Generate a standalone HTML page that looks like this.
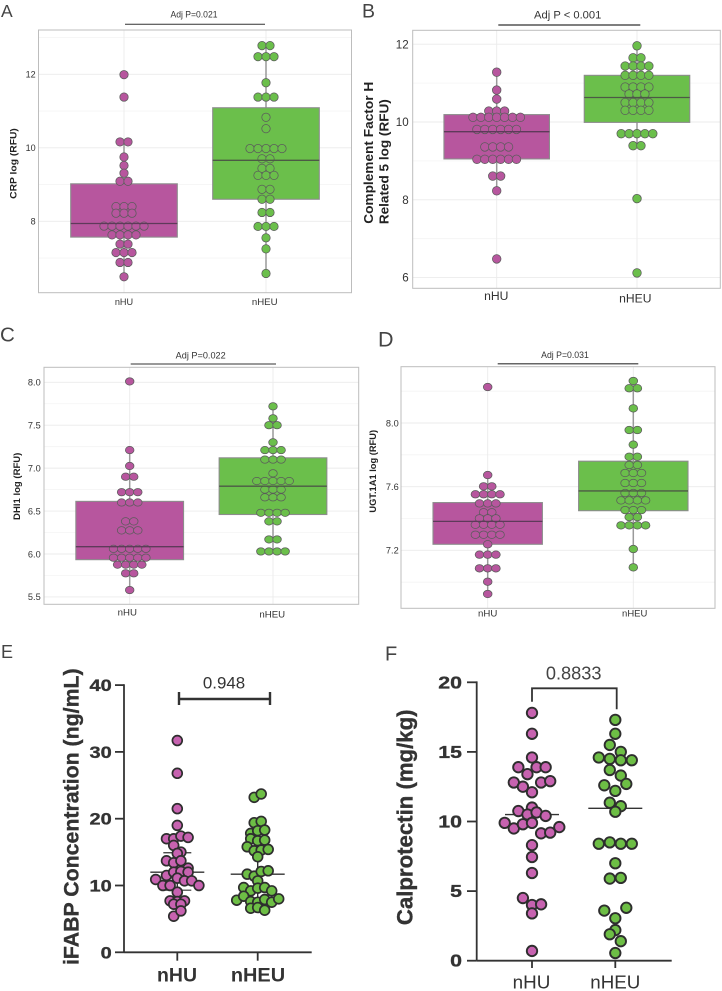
<!DOCTYPE html>
<html lang="en">
<head>
<meta charset="utf-8">
<title>nHU vs nHEU biomarker comparison panels</title>
<style>
html,body{margin:0;padding:0;background:#fff;}
svg{display:block;font-family:"Liberation Sans",sans-serif;}
</style>
</head>
<body>
<svg id="figure" xmlns="http://www.w3.org/2000/svg" width="722" height="991" viewBox="0 0 722 991">
  <rect x="0" y="0" width="722" height="991" fill="#ffffff"/>

  <g id="panel-a"></g>
  <g id="panel-b"></g>
  <g id="panel-c"></g>
  <g id="panel-d"></g>
  <g id="panel-e"></g>
  <g id="panel-f"></g>

  <g fill="#444444">
    <text x="1" y="17" font-size="17.5">A</text>
    <text x="362" y="17.5" font-size="19.5">B</text>
    <text x="0" y="341.5" font-size="20.5">C</text>
    <text x="378" y="346.5" font-size="21.5">D</text>
    <text x="1" y="658" font-size="18">E</text>
    <text x="385" y="660.5" font-size="20">F</text>
  </g>

  <g>
    <text x="194" y="17.5" font-size="8.8" text-anchor="middle" fill="#333" textLength="47" lengthAdjust="spacingAndGlyphs">Adj P=0.021</text>
    <line x1="125" x2="265" y1="24.3" y2="24.3" stroke="#333" stroke-width="1"/>
  </g>
  <g>
    <text x="567.7" y="18.7" font-size="11" text-anchor="middle" fill="#333" textLength="67.3" lengthAdjust="spacingAndGlyphs">Adj P &lt; 0.001</text>
    <line x1="498.3" x2="640.3" y1="25" y2="25" stroke="#333" stroke-width="1.2"/>
  </g>
  <g>
    <text x="200.7" y="358.3" font-size="8.8" text-anchor="middle" fill="#333" textLength="50" lengthAdjust="spacingAndGlyphs">Adj P=0.022</text>
    <line x1="130.7" x2="276" y1="364" y2="364" stroke="#333" stroke-width="1"/>
  </g>
  <g>
    <text x="565" y="358" font-size="8.8" text-anchor="middle" fill="#333" textLength="47.7" lengthAdjust="spacingAndGlyphs">Adj P=0.031</text>
    <line x1="497.7" x2="638.3" y1="363.7" y2="363.7" stroke="#666" stroke-width="1.5"/>
  </g>
  <g>
    <text x="224" y="688.3" font-size="17" text-anchor="middle" fill="#333" textLength="42.3" lengthAdjust="spacingAndGlyphs">0.948</text>
    <path d="M179 692V705M179 699H270M270 692V705" fill="none" stroke="#333" stroke-width="2.4"/>
  </g>
  <g>
    <text x="573.7" y="679.3" font-size="18" text-anchor="middle" fill="#444" textLength="55.7" lengthAdjust="spacingAndGlyphs">0.8833</text>
    <path d="M532 701.7V688.3H616.7V709.3" fill="none" stroke="#333" stroke-width="1.8"/>
  </g>

  <g fill="#222" font-weight="bold">
    <text transform="translate(16.7 163.5) rotate(-90)" font-size="9.3" text-anchor="middle" textLength="70.7" lengthAdjust="spacingAndGlyphs">CRP log (RFU)</text>
    <text transform="translate(373 152.8) rotate(-90)" font-size="12.5" text-anchor="middle" textLength="142" lengthAdjust="spacingAndGlyphs">Complement Factor H</text>
    <text transform="translate(388.7 161.7) rotate(-90)" font-size="12.5" text-anchor="middle" textLength="125" lengthAdjust="spacingAndGlyphs">Related 5 log (RFU)</text>
    <text transform="translate(20 486.3) rotate(-90)" font-size="9.3" text-anchor="middle" textLength="67.3" lengthAdjust="spacingAndGlyphs">DHI1 log (RFU)</text>
    <text transform="translate(376 471.3) rotate(-90)" font-size="9.3" text-anchor="middle" textLength="82.7" lengthAdjust="spacingAndGlyphs">UGT.1A1 log (RFU)</text>
    <text fill="#333" stroke="#333" stroke-width="0.35" transform="translate(78.3 816.7) rotate(-90)" font-size="21" text-anchor="middle" textLength="296.7" lengthAdjust="spacingAndGlyphs">iFABP Concentration (ng/mL)</text>
    <text fill="#333" stroke="#333" stroke-width="0.35" transform="translate(412.7 817.3) rotate(-90)" font-size="22" text-anchor="middle" textLength="215.7" lengthAdjust="spacingAndGlyphs">Calprotectin (mg/kg)</text>
  </g>
</svg>

<script>
/* ---------- shared categories ---------- */
const categories = ['nHU', 'nHEU'];

/* ---------- Panel A: CRP ---------- */
const aTicks = [8, 10, 12];
const aTickLabels = ['8', '10', '12'];
const aMinorTicks = [7, 9, 11, 13];
const aHuValues = [11.99, 11.38, 10.16, 10.16, 9.75, 9.52, 9.31, 9.09, 9.09, 8.4, 8.4, 8.4, 8.22, 8.22, 8.22, 7.87, 7.87, 7.87, 7.87, 7.87, 7.87, 7.63, 7.63, 7.63, 7.63, 7.38, 7.38, 7.15, 7.15, 7.15, 6.88, 6.88, 6.49];
const aHeuValues = [12.78, 12.78, 12.48, 12.48, 12.48, 11.77, 11.38, 11.38, 11.38, 10.83, 10.52, 9.98, 9.98, 9.98, 9.98, 9.98, 9.7, 9.7, 9.44, 9.44, 9.25, 9.25, 9.25, 8.87, 8.87, 8.6, 8.6, 8.24, 8.24, 7.86, 7.86, 7.86, 7.55, 7.25, 6.58];
const aHuBox = [6.49, 7.57, 7.94, 9.02, 10.16];   /* low, q1, median, q3, high */
const aHeuBox = [6.58, 8.6, 9.66, 11.09, 12.78];

/* ---------- Panel B: Complement Factor H Related 5 ---------- */
const bTicks = [6, 8, 10, 12];
const bTickLabels = ['6', '8', '10', '12'];
const bMinorTicks = [7, 9, 11];
const bHuValues = [11.28, 10.82, 10.59, 10.28, 10.28, 10.28, 10.12, 10.12, 10.12, 10.12, 10.12, 10.12, 10.12, 9.81, 9.81, 9.81, 9.81, 9.81, 9.81, 9.36, 9.36, 9.36, 9.36, 9.04, 9.04, 9.04, 9.04, 9.04, 9.04, 8.61, 8.61, 8.23, 6.48];
const bHeuValues = [11.96, 11.65, 11.65, 11.44, 11.44, 11.44, 11.44, 11.2, 11.2, 11.2, 11.2, 10.9, 10.9, 10.9, 10.9, 10.72, 10.72, 10.72, 10.5, 10.5, 10.5, 10.5, 10.3, 10.3, 10.3, 10.3, 9.7, 9.7, 9.7, 9.7, 9.7, 9.39, 9.39, 8.03, 6.12];
const bHuBox = [8.23, 9.05, 9.75, 10.19, 11.28];
const bHeuBox = [9.39, 9.99, 10.63, 11.2, 11.96];

/* ---------- Panel C: DHI1 ---------- */
const cTicks = [5.5, 6, 6.5, 7, 7.5, 8];
const cTickLabels = ['5.5', '6.0', '6.5', '7.0', '7.5', '8.0'];
const cMinorTicks = [5.75, 6.25, 6.75, 7.25, 7.75];
const cHuValues = [8.01, 7.21, 7.025, 6.9, 6.9, 6.72, 6.72, 6.72, 6.6, 6.6, 6.6, 6.38, 6.38, 6.275, 6.275, 6.275, 6.06, 6.06, 6.06, 6.06, 6.06, 5.957, 5.957, 5.957, 5.957, 5.957, 5.876, 5.876, 5.876, 5.876, 5.775, 5.775, 5.58];
const cHeuValues = [7.72, 7.58, 7.5, 7.5, 7.3, 7.21, 7.21, 7.21, 7.1, 7.1, 7.1, 6.94, 6.85, 6.85, 6.85, 6.85, 6.85, 6.75, 6.75, 6.75, 6.66, 6.66, 6.66, 6.48, 6.48, 6.48, 6.48, 6.38, 6.38, 6.17, 6.17, 6.03, 6.03, 6.03, 6.03];
const cHuBox = [5.58, 5.934, 6.085, 6.613, 7.21];
const cHeuBox = [6.03, 6.46, 6.79, 7.12, 7.72];

/* ---------- Panel D: UGT.1A1 ---------- */
const dTicks = [7.2, 7.6, 8];
const dTickLabels = ['7.2', '7.6', '8.0'];
const dMinorTicks = [7, 7.4, 7.8, 8.2];
const dHuValues = [8.226, 7.673, 7.602, 7.602, 7.552, 7.552, 7.552, 7.552, 7.495, 7.495, 7.495, 7.439, 7.439, 7.401, 7.401, 7.401, 7.361, 7.361, 7.361, 7.361, 7.298, 7.298, 7.298, 7.298, 7.238, 7.173, 7.173, 7.173, 7.087, 7.087, 7.087, 7.003, 6.926];
const dHeuValues = [8.264, 8.218, 8.218, 8.092, 7.956, 7.956, 7.864, 7.788, 7.788, 7.736, 7.736, 7.686, 7.686, 7.686, 7.623, 7.623, 7.623, 7.56, 7.56, 7.56, 7.514, 7.514, 7.514, 7.514, 7.453, 7.453, 7.453, 7.409, 7.409, 7.357, 7.357, 7.357, 7.357, 7.208, 7.093];
const dHuBox = [6.926, 7.238, 7.382, 7.5, 7.673];
const dHeuBox = [7.093, 7.449, 7.573, 7.76, 8.264];

/* ---------- Panel E: iFABP ---------- */
const eTicks = [0, 10, 20, 30, 40];
const eTickLabels = ['0', '10', '20', '30', '40'];
const eHuValues = [31.7, 26.8, 21.5, 19, 17, 17, 17.4, 17.2, 16, 14.8, 15, 13.7, 13.4, 13.7, 12.6, 11.5, 12, 12.1, 12, 10.9, 10, 10, 11.1, 10.7, 10.7, 10, 9, 7.7, 7.6, 7.7, 7.2, 7.2, 5.4, 6.2];
const eHeuValues = [23.2, 23.7, 19.4, 19.6, 17.8, 18.2, 18.3, 17, 16.7, 16.8, 15.8, 15.2, 15.3, 15.4, 14.3, 11.7, 11.4, 12.1, 12.2, 10.7, 9.7, 9.2, 9.6, 9.7, 9.2, 7.8, 8.4, 7.6, 7.5, 7.9, 7.5, 8, 6.6, 6.7, 6.3];
const eHuSummary = [9.3, 12, 14.9];    /* lower SD, mean, upper SD */
const eHeuSummary = [8, 11.7, 15.4];

/* ---------- Panel F: Calprotectin ---------- */
const fTicks = [0, 5, 10, 15, 20];
const fTickLabels = ['0', '5', '10', '15', '20'];
const fHuValues = [17.8, 16.3, 14.6, 13.9, 13.4, 13.9, 13.9, 12.8, 12.5, 12.1, 12.8, 12.9, 11, 10.75, 10.5, 10.65, 10.4, 9.9, 9.5, 9.8, 9.9, 9.15, 9.2, 9.6, 8.3, 7.45, 6.3, 4.5, 4, 4.05, 3.4, 0.7];
const fHeuValues = [17.3, 16.3, 15.5, 15, 14.6, 14.5, 14.4, 14.4, 13.7, 13.3, 12.6, 12.2, 12.7, 11.35, 11.1, 10.7, 8.4, 8.5, 8.4, 8.4, 7, 5.9, 5.95, 3.6, 3.05, 3.8, 2.2, 1.9, 1.4, 0.55];
const fHuSummary = [10.5];             /* mean only */
const fHeuSummary = [10.95];

/* ---------- drawing helpers ---------- */
const NS = 'http://www.w3.org/2000/svg';

function make(parent, tag, props) {
  const el = document.createElementNS(NS, tag);
  for (const k in props) el.setAttribute(k, props[k]);
  parent.appendChild(el);
  return el;
}

function rule(parent, name, x1, y1, x2, y2, color, width) {
  const el = make(parent, 'line', {x1: x1, y1: y1, x2: x2, y2: y2, stroke: color, 'stroke-width': width});
  
  
  return el;
}

function label(parent, name, str, x, y, size, color, anchor, weight, len) {
  const el = make(parent, 'text', {x: x, y: y, 'font-size': size, fill: color, 'text-anchor': anchor, 'font-weight': weight});
  if (len) {
    el.setAttribute('textLength', len);
    el.setAttribute('lengthAdjust', 'spacingAndGlyphs');
  }
  el.textContent = str;
  
  
  return el;
}

/* Centred dot-plot: equal values share a row */
function drawDotRows(g, name, values, xCenter, yScale, cfg, fill) {
  const rows = new Map();
  values.forEach(function (v) {
    if (!rows.has(v)) rows.set(v, 0);
    rows.set(v, rows.get(v) + 1);
  });
  rows.forEach(function (n, v) {
    for (let i = 0; i < n; i++) {
      const dot = make(g, 'ellipse', {
        cx: xCenter + (i - (n - 1) / 2) * cfg.step,
        cy: yScale(v),
        rx: cfg.rx, ry: cfg.ry,
        fill: fill, stroke: '#5b5b5b', 'stroke-width': 0.75
      });
      
      
    }
  });
}

/* ggplot style panel with box plots and dot rows */
function drawBoxPanel(id, cfg, ticks, tickLabels, minorTicks, series) {
  const g = document.getElementById(id);
  const y = cfg.y;
  const bg = make(g, 'rect', {x: cfg.left, y: cfg.top, width: cfg.right - cfg.left, height: cfg.bottom - cfg.top, fill: '#fff'});
  
  
  minorTicks.forEach(function (t) {
    rule(g, 'minor-gridline', cfg.left, y(t), cfg.right, y(t), '#f4f4f4', 0.8);
  });
  ticks.forEach(function (t, i) {
    rule(g, 'major-gridline', cfg.left, y(t), cfg.right, y(t), '#ebebeb', 0.9);
    label(g, 'y-tick-label', tickLabels[i], cfg.tickRight, y(t) + cfg.tickSize * 0.36, cfg.tickSize, '#333', 'end', 'normal');
  });
  series.forEach(function (s, i) {
    const cx = cfg.centers[i];
    rule(g, 'vertical-gridline', cx, cfg.top, cx, cfg.bottom, '#ebebeb', 0.9);
  });
  series.forEach(function (s, i) {
    const cx = cfg.centers[i];
    const hw = cfg.boxWidth / 2;
    rule(g, 'whisker-' + categories[i], cx, y(s.box[0]), cx, y(s.box[4]), '#9a9a9a', 1.5);
    const box = make(g, 'rect', {
      x: cx - hw, y: y(s.box[3]), width: cfg.boxWidth, height: y(s.box[1]) - y(s.box[3]),
      fill: s.fill, stroke: '#8c8c8c', 'stroke-width': 1.1
    });
    
    
    drawDotRows(g, 'dot-' + categories[i], s.values, cx, y, cfg, s.fill);
    rule(g, 'median-' + categories[i], cx - hw, y(s.box[2]), cx + hw, y(s.box[2]), s.median, 1.35);
    label(g, 'x-tick-label', categories[i], cfg.labelX[i], cfg.labelY[i], cfg.labelSize, '#333', 'middle', 'normal', cfg.labelLen[i]);
  });
  const frame = make(g, 'rect', {x: cfg.left, y: cfg.top, width: cfg.right - cfg.left, height: cfg.bottom - cfg.top, fill: 'none', stroke: '#bdbdbd', 'stroke-width': 1});
  
  
}

/* Binned symmetric scatter (GraphPad style): values in a bin spread sideways in array order */
function drawScatter(g, name, values, xCenter, yScale, cfg, step, fill) {
  const bins = new Map();
  values.forEach(function (v) {
    const key = Math.floor(v / cfg.binSize);
    if (!bins.has(key)) bins.set(key, []);
    bins.get(key).push(v);
  });
  bins.forEach(function (list) {
    list.forEach(function (v, i) {
      const dot = make(g, 'circle', {
        cx: xCenter + (i - (list.length - 1) / 2) * step,
        cy: yScale(v), r: cfg.r,
        fill: fill, stroke: '#2e2e2e', 'stroke-width': cfg.sw
      });
      
      
    });
  });
}

/* Prism style panel */
function drawPrismPanel(id, cfg, ticks, tickLabels, series) {
  const g = document.getElementById(id);
  const y = cfg.y;
  rule(g, 'y-axis-line', cfg.axisX, y(ticks[ticks.length - 1]) - 0.9, cfg.axisX, y(0), '#333', 1.8);
  rule(g, 'x-axis-line', cfg.axisX, y(0), cfg.axisEnd, y(0), '#333', 1.8);
  ticks.forEach(function (t, i) {
    rule(g, 'y-tick', cfg.tickLeft, y(t), cfg.axisX, y(t), '#333', 1.8);
    const tl = label(g, 'y-tick-label', tickLabels[i], cfg.tickRight, y(t) + 6, cfg.tickSize, '#333', 'end', 'bold', tickLabels[i].length * cfg.charWidth);
    tl.setAttribute('stroke', '#333');
    tl.setAttribute('stroke-width', '0.35');
  });
  series.forEach(function (s, i) {
    const cx = cfg.centers[i];
    rule(g, 'x-tick', cx, y(0), cx, cfg.xTickEnd, '#333', 1.8);
    label(g, 'x-tick-label', categories[i], cfg.labelX[i], cfg.labelY, cfg.labelSize, '#333', 'middle', cfg.labelWeight, cfg.labelLen[i]);
    const hasError = s.summary.length === 3;
    if (hasError) {
      rule(g, 'error-bar-' + categories[i], cx, y(s.summary[0]), cx, y(s.summary[2]), '#333', 1.4);
      rule(g, 'error-cap-upper-' + categories[i], cx - 14, y(s.summary[2]), cx + 14, y(s.summary[2]), '#333', 1.2);
      rule(g, 'error-cap-lower-' + categories[i], cx - 14, y(s.summary[0]), cx + 14, y(s.summary[0]), '#333', 1.2);
    }
    const mean = hasError ? s.summary[1] : s.summary[0];
    rule(g, 'mean-line-' + categories[i], cx - 27, y(mean), cx + 27, y(mean), '#333', 1.4);
    drawScatter(g, 'dot-' + categories[i], s.values, cx, y, cfg, s.step, s.fill);
  });
}

/* ---------- axis scales ---------- */
const yA = function (v) { return 221.3 - (v - 8) * 36.75; };
const yB = function (v) { return 122 - (v - 10) * 38.89; };
const yC = function (v) { return 320 + (702 - (v - 6) * 257.6) / 3; };
const yD = function (v) { return 320 + (500 - (v - 7.6) * 477.5) / 3; };
const yE = function (v) { return 952.3 - v * 6.68; };
const yF = function (v) { return 960.7 - v * 13.92; };

const PURPLE = '#b7569e';
const GREEN = '#6bbf4b';
const MEDIAN_P = '#5e3a5a';
const MEDIAN_G = '#4c5a45';

drawBoxPanel('panel-a',
  {y: yA, left: 38.5, right: 351.5, top: 30, bottom: 292.7, tickRight: 35.7, tickSize: 9,
   centers: [124, 266], boxWidth: 106.6, step: 8, rx: 4.2, ry: 4.2,
   labelX: [124, 264.7], labelY: [305, 305], labelSize: 9.3, labelLen: [18.3, 25.7]},
  aTicks, aTickLabels, aMinorTicks,
  [{values: aHuValues, box: aHuBox, fill: PURPLE, median: MEDIAN_P},
   {values: aHeuValues, box: aHeuBox, fill: GREEN, median: MEDIAN_G}]);

drawBoxPanel('panel-b',
  {y: yB, left: 412.7, right: 720.3, top: 30.3, bottom: 288.3, tickRight: 408.7, tickSize: 11.6,
   centers: [496.7, 637], boxWidth: 105.5, step: 7.9, rx: 4.3, ry: 4.3,
   labelX: [496.3, 635.3], labelY: [300, 302.7], labelSize: 12.2, labelLen: [24.3, 32.3]},
  bTicks, bTickLabels, bMinorTicks,
  [{values: bHuValues, box: bHuBox, fill: PURPLE, median: MEDIAN_P},
   {values: bHeuValues, box: bHeuBox, fill: GREEN, median: MEDIAN_G}]);

drawBoxPanel('panel-c',
  {y: yC, left: 44, right: 358.7, top: 367.3, bottom: 604.3, tickRight: 40.7, tickSize: 9.2,
   centers: [129.7, 273], boxWidth: 107.7, step: 8.1, rx: 4.3, ry: 3.7,
   labelX: [127.3, 272.3], labelY: [615.7, 617.3], labelSize: 9.3, labelLen: [19.3, 25.7]},
  cTicks, cTickLabels, cMinorTicks,
  [{values: cHuValues, box: cHuBox, fill: PURPLE, median: MEDIAN_P},
   {values: cHeuValues, box: cHeuBox, fill: GREEN, median: MEDIAN_G}]);

drawBoxPanel('panel-d',
  {y: yD, left: 401, right: 715, top: 366.7, bottom: 608.3, tickRight: 398.7, tickSize: 9.2,
   centers: [487.7, 633.3], boxWidth: 109.4, step: 8.2, rx: 4.35, ry: 3.75,
   labelX: [487.7, 634.7], labelY: [616.7, 616.7], labelSize: 9.3, labelLen: [19.3, 25.3]},
  dTicks, dTickLabels, dMinorTicks,
  [{values: dHuValues, box: dHuBox, fill: PURPLE, median: MEDIAN_P},
   {values: dHeuValues, box: dHeuBox, fill: GREEN, median: MEDIAN_G}]);

drawPrismPanel('panel-e',
  {y: yE, axisX: 124, axisEnd: 311.7, tickLeft: 115, tickRight: 111.7, tickSize: 17, charWidth: 11.1,
   centers: [177.3, 257.7], xTickEnd: 960.7, labelX: [177, 258], labelY: 981.7, labelSize: 19.5,
   labelWeight: 'bold', labelLen: [40, 54.3], binSize: 1.25, r: 4.9, sw: 1.7},
  eTicks, eTickLabels,
  [{values: eHuValues, summary: eHuSummary, fill: '#c762b0', step: 7.2},
   {values: eHeuValues, summary: eHeuSummary, fill: '#6dbe45', step: 7}]);

drawPrismPanel('panel-f',
  {y: yF, axisX: 476.7, axisEnd: 671.7, tickLeft: 467, tickRight: 462, tickSize: 17.5, charWidth: 11.85,
   centers: [532, 615.3], xTickEnd: 968, labelX: [531.5, 615.3], labelY: 988.3, labelSize: 18.5,
   labelWeight: 'normal', labelLen: [37.7, 50], binSize: 1, r: 5.2, sw: 1.9},
  fTicks, fTickLabels,
  [{values: fHuValues, summary: fHuSummary, fill: '#c762b0', step: 9.1},
   {values: fHeuValues, summary: fHeuSummary, fill: '#6dbe45', step: 11}]);
</script>
</body>
</html>
